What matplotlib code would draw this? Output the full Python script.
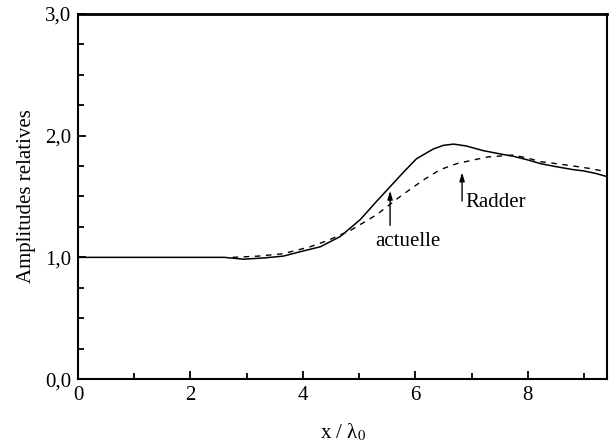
import matplotlib
matplotlib.use("Agg")
import matplotlib.pyplot as plt
from matplotlib.ticker import MultipleLocator, FuncFormatter

plt.rcParams['font.family'] = ['Liberation Serif', 'DejaVu Serif']
plt.rcParams['mathtext.fontset'] = 'stix'

# Amplitude relative - solution actuelle (ligne continue)
x_actuelle = [0.0, 1.0, 2.0, 2.6, 2.95, 3.3, 3.65, 3.95, 4.31, 4.66,
              5.02, 5.31, 5.55, 5.79, 6.02, 6.32, 6.5, 6.68, 6.9,
              7.21, 7.5, 7.74, 8.0, 8.22, 8.5, 8.81, 8.99, 9.2, 9.43]
y_actuelle = [1.0, 1.0, 1.0, 1.0, 0.985, 0.995, 1.01, 1.046, 1.087, 1.17,
              1.31, 1.46, 1.58, 1.70, 1.81, 1.89, 1.92, 1.93, 1.915,
              1.876, 1.85, 1.83, 1.80, 1.77, 1.745, 1.72, 1.71, 1.69, 1.66]

# Amplitude relative - Radder (ligne pointillee)
x_radder = [2.75, 3.2, 3.65, 4.13, 4.45, 4.84, 5.31, 5.73, 6.14, 6.44,
            6.74, 7.03, 7.3, 7.74, 8.0, 8.22, 8.5, 8.81, 9.1, 9.43]
y_radder = [1.0, 1.01, 1.03, 1.087, 1.14, 1.22, 1.35, 1.50, 1.635, 1.72,
            1.77, 1.80, 1.825, 1.84, 1.815, 1.786, 1.77, 1.75, 1.73, 1.70]

fig = plt.figure(figsize=(6.09, 4.45), dpi=100)
ax = fig.add_axes([0.128, 0.148, 0.869, 0.821])

ax.plot(x_actuelle, y_actuelle, color='black', lw=1.1)
ax.plot(x_radder, y_radder, color='black', lw=1.0, ls=(0, (4, 4)))

# Fleches et annotations
ax.annotate('', xy=(5.55, 1.57), xytext=(5.55, 1.24),
            arrowprops=dict(arrowstyle='-|>,head_length=0.5,head_width=0.15',
                            color='black', lw=1.0))
ax.text(5.87, 1.13, 'actuelle', ha='center', va='center', fontsize=15)
ax.annotate('', xy=(6.83, 1.72), xytext=(6.83, 1.44),
            arrowprops=dict(arrowstyle='-|>,head_length=0.5,head_width=0.15',
                            color='black', lw=1.0))
ax.text(6.88, 1.45, 'Radder', ha='left', va='center', fontsize=15)

ax.set_xlim(0, 9.41)
ax.set_ylim(0, 3.0)
ax.xaxis.set_major_locator(MultipleLocator(2))
ax.xaxis.set_minor_locator(MultipleLocator(1))
ax.yaxis.set_major_locator(MultipleLocator(1))
ax.yaxis.set_minor_locator(MultipleLocator(0.25))
ax.yaxis.set_major_formatter(FuncFormatter(lambda v, p: f"{v:.1f}".replace('.', ',')))
ax.tick_params(which='both', direction='in', top=False, right=False,
               labelsize=15, width=1.3)
ax.tick_params(which='major', length=6, pad=5)
ax.tick_params(which='minor', length=4)

for s in ax.spines.values():
    s.set_linewidth(1.5)
ax.spines['top'].set_linewidth(2.0)

ax.set_xlabel('x / λ$_0$', fontsize=15, labelpad=12)
ax.set_ylabel('Amplitudes relatives', fontsize=15, labelpad=6)

fig.savefig('out.png', dpi=100)
